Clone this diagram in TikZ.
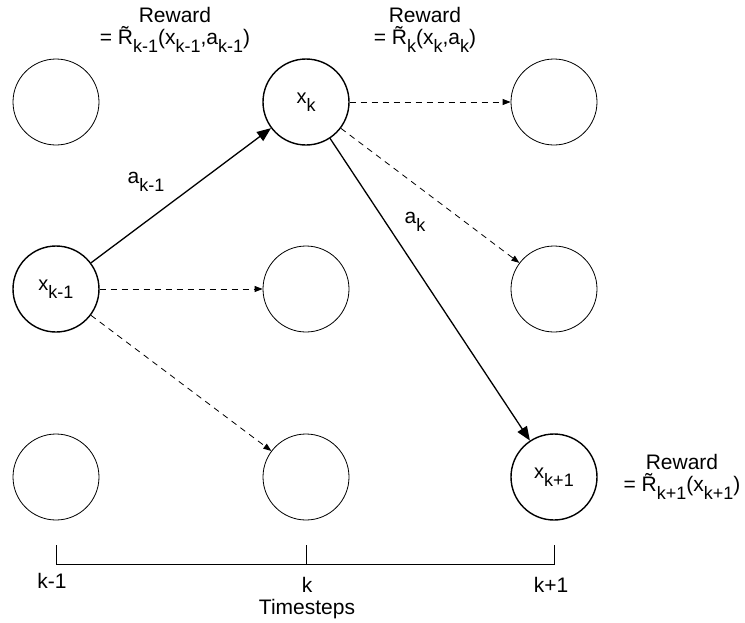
\documentclass[tikz,border=0pt]{standalone}
\usepackage{fontspec}
\setmainfont{Liberation Sans}
\usetikzlibrary{arrows.meta}

\newcommand{\idx}[1]{\raisebox{-4pt}{\fontsize{9}{9}\selectfont #1}}

\tikzset{
  emptystate/.style={circle, draw, fill=white, minimum size=43pt, inner sep=0pt, line width=0.4pt},
  fullstate/.style={emptystate, line width=0.7pt},
  actarrow/.style={-{Triangle[length=7pt,width=5.5pt]}, line width=0.65pt},
  altarrow/.style={-{Triangle[length=4pt,width=3pt]}, dash pattern=on 3pt off 2.5pt, line width=0.4pt},
  txt/.style={inner sep=0pt, font=\fontsize{10.5}{11}\selectfont}
}

\begin{document}
\begin{tikzpicture}[x=0.5pt,y=-0.5pt]

\useasboundingbox (0,0) rectangle (745,622);

% States
\node[emptystate] (s11) at (56,102) {};
\node[fullstate] (s12) at (306,102) {x\idx{k}};
\node[emptystate] (s13) at (554,102) {};

\node[fullstate] (s21) at (56,289) {x\idx{k-1}};
\node[emptystate] (s22) at (306,289) {};
\node[emptystate] (s23) at (554,289) {};

\node[emptystate] (s31) at (56,477) {};
\node[emptystate] (s32) at (306,477) {};
\node[fullstate] (s33) at (554,477) {x\idx{k+1}};

% Actions taken
\draw[actarrow] (s21) -- (s12);
\draw[actarrow] (s12) -- (s33);

\node[txt] (ak1) at (146,182) {a\idx{k-1}};
\node[txt] (ak) at (415,222) {a\idx{k}};

% Other actions
\foreach \a/\b in {s21/s22, s21/s32, s12/s13, s12/s23}
{
\draw[altarrow] (\a) -- (\b);
}

% Rewards
\node[txt, align=center] (r1) at (175,30)
{Reward\\= \~R\idx{k-1}(x\idx{k-1},a\idx{k-1})};

\node[txt, align=center] (r2) at (425,30)
{Reward\\= \~R\idx{k}(x\idx{k},a\idx{k})};

\node[txt, align=center] (r3) at (682,477)
{Reward\\= \~R\idx{k+1}(x\idx{k+1})};

% Timesteps
\draw[line width=0.5pt] (56,545) -- (56,564) -- (554,564) -- (554,545);
\draw[line width=0.5pt] (306,545) -- (306,564);

\node[txt, anchor=base] (t1) at (52,588) {k-1};
\node[txt, anchor=base] (t2) at (307,592) {k};
\node[txt, anchor=base] (t3) at (551,592) {k+1};

\node[txt, anchor=base] (ts) at (307,614) {Timesteps};

\end{tikzpicture}
\end{document}
